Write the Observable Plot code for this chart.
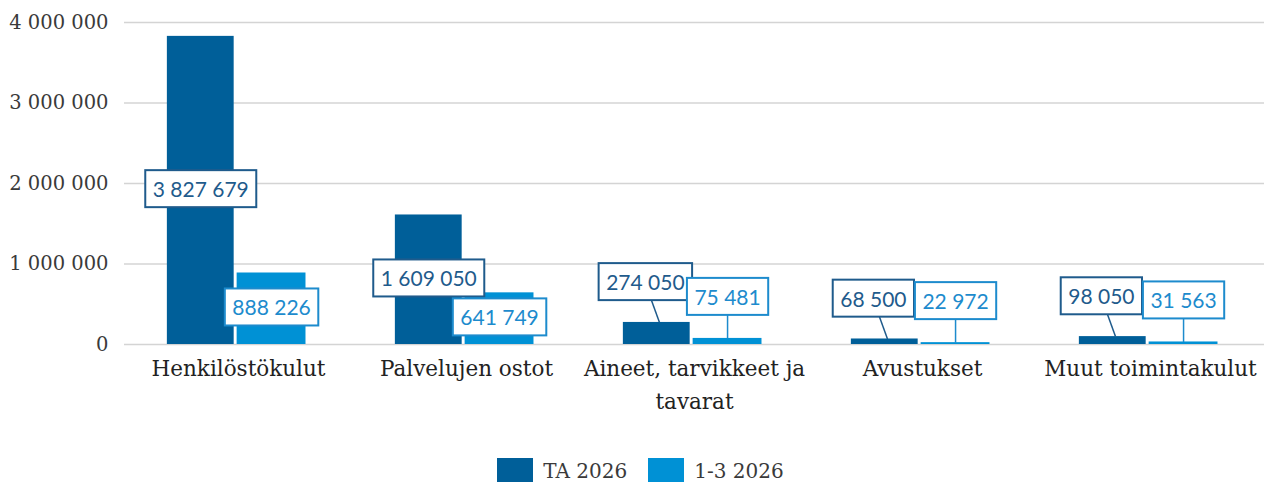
<!DOCTYPE html>
<html>
<head>
<meta charset="utf-8">
<script src="https://cdn.jsdelivr.net/npm/d3@7"></script>
<script src="https://cdn.jsdelivr.net/npm/@observablehq/plot@0.6"></script>
<style>
  html, body { margin: 0; padding: 0; background: #fff; }
  #legend { display: flex; justify-content: center; align-items: center; gap: 21px; height: 42px; padding-top: 10px; padding-left: 12px; font-family: "DejaVu Serif", serif; font-size: 20px; color: #3a3a3a; }
  .item { display: flex; align-items: center; gap: 10px; }
  .sw { width: 36px; height: 27px; display: inline-block; }
</style>
</head>
<body>
<div id="chart"></div>
<div id="legend"></div>
<script>
const categories = ["Henkilöstökulut", "Palvelujen ostot", "Aineet, tarvikkeet ja tavarat", "Avustukset", "Muut toimintakulut"];
const categoryLabels = ["Henkilöstökulut", "Palvelujen ostot", "Aineet, tarvikkeet ja\ntavarat", "Avustukset", "Muut toimintakulut"];
const seriesNames = ["TA 2026", "1-3 2026"];
const taValues = [3827679, 1609050, 274050, 68500, 98050];
const q1Values = [888226, 641749, 75481, 22972, 31563];
const yTicks = [0, 1000000, 2000000, 3000000, 4000000];

const colors = {"TA 2026": "#005f99", "1-3 2026": "#0091d5"};
const labelColors = {"TA 2026": "#1f5b8c", "1-3 2026": "#1d8bcd"};

const rows = [];
categories.forEach((c, i) => {
  rows.push({cat: c, series: seriesNames[0], value: taValues[i]});
  rows.push({cat: c, series: seriesNames[1], value: q1Values[i]});
});

// layout inside each category band (0..1)
const barX = {"TA 2026": [0.188, 0.481], "1-3 2026": [0.494, 0.796]};
const isBig = d => d.value > 500000;
const mid = d => (barX[d.series][0] + barX[d.series][1]) / 2;
const labelX = d => isBig(d) || d.series === "1-3 2026" ? mid(d) : mid(d) - 0.05;
const labelY = d => isBig(d) ? d.value / 2 : d.value + (d.series === "TA 2026" ? 485000 : 500000);
const fmt = v => d3.format(",")(v).replace(/,/g, " ");

const small = rows.filter(d => !isBig(d));

const plot = Plot.plot({
  width: 1269,
  height: 440,
  marginLeft: 122,
  marginRight: 4,
  marginTop: 22,
  marginBottom: 96,
  fx: {domain: categories, padding: 0, axis: null},
  x: {domain: [0, 1], axis: null},
  y: {domain: [0, 4000000], axis: null},
  style: {fontFamily: "DejaVu Serif, serif", overflow: "visible"},
  marks: [
    Plot.gridY(yTicks, {stroke: "#d4d4d4", strokeOpacity: 1, strokeWidth: 1.5}),
    Plot.axisY(yTicks, {tickSize: 0, tickPadding: 16, fontSize: 19.5, fill: "#3a3a3a", tickFormat: fmt, label: null, anchor: "left"}),
    Plot.rect(rows, {fx: "cat", x1: d => barX[d.series][0], x2: d => barX[d.series][1], y1: 0, y2: "value", fill: d => colors[d.series]}),
    Plot.link(small, {fx: "cat", x1: labelX, x2: d => d.series === "TA 2026" ? mid(d) + 0.012 : mid(d), y1: labelY, y2: "value", stroke: d => labelColors[d.series], strokeWidth: 1.5}),
    Plot.text(rows, {fx: "cat", x: labelX, y: labelY, text: d => fmt(d.value), fill: d => labelColors[d.series], fontFamily: "Lato", fontSize: 21}),
    Plot.text(categories, {fx: d => d, x: () => 0.5, frameAnchor: "bottom", lineAnchor: "top", dy: 8, text: (d, i) => categoryLabels[i], fontSize: 21.5, fill: "#222", lineHeight: 1.53})
  ]
});

document.getElementById("chart").appendChild(plot);

// white boxes with borders behind the data labels
plot.querySelectorAll('g[font-family="Lato"] text').forEach(t => {
  const b = t.getBBox();
  const r = document.createElementNS("http://www.w3.org/2000/svg", "rect");
  const w = b.width + 15, h = 37;
  r.setAttribute("x", b.x + b.width / 2 - w / 2);
  r.setAttribute("y", b.y + b.height / 2 - h / 2);
  r.setAttribute("width", w);
  r.setAttribute("height", h);
  r.setAttribute("fill", "#fff");
  r.setAttribute("stroke", t.getAttribute("fill") || "#1f5b8c");
  r.setAttribute("stroke-width", 2);
  if (t.getAttribute("transform")) r.setAttribute("transform", t.getAttribute("transform"));
  t.parentNode.insertBefore(r, t);
});

const legend = document.getElementById("legend");
seriesNames.forEach(s => {
  const it = document.createElement("div");
  it.className = "item";
  it.innerHTML = `<span class="sw" style="background:${colors[s]}"></span><span>${s}</span>`;
  legend.appendChild(it);
});
</script>
</body>
</html>
